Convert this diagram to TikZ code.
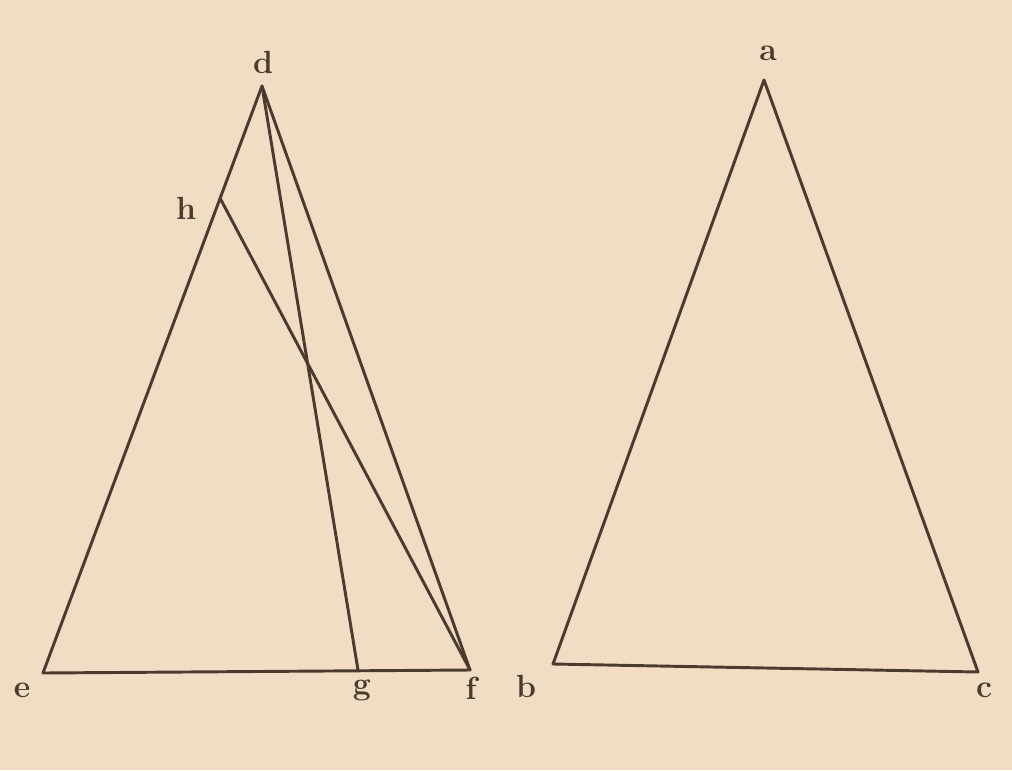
\documentclass[tikz,border=0pt]{standalone}
\definecolor{paper}{HTML}{F0DDC4}
\definecolor{ink}{HTML}{4A3B2E}
\begin{document}
\begin{tikzpicture}[x=0.75pt,y=-0.75pt,
  edge/.style={draw=ink,line width=2.2pt,line cap=round,line join=round},
  lbl/.style={text=ink,font=\fontsize{24}{26}\selectfont\bfseries,inner sep=0pt}]
\fill[paper] (0,0) rectangle (1012,770);
\useasboundingbox (0,0) rectangle (1012,770);
% left figure points
\coordinate (d) at (262,86);
\coordinate (h) at (220,198);
\coordinate (e) at (43,673);
\coordinate (g) at (358,670);
\coordinate (f) at (470,670);
% right figure points
\coordinate (a) at (764,80);
\coordinate (b) at (553,664);
\coordinate (c) at (978,672);
% left figure
\draw[edge] (d) -- (e) -- (f) -- cycle;
\draw[edge] (d) -- (g);
\draw[edge] (h) -- (f);
% right figure
\draw[edge] (a) -- (b) -- (c) -- cycle;
% labels
\node[lbl] (ld) at (263,62) {d};
\node[lbl] (lh) at (186,208) {h};
\node[lbl] (le) at (22,690) {e};
\node[lbl] (lg) at (362,690) {g};
\node[lbl] (lf) at (471,688) {f};
\node[lbl] (lb) at (526,686) {b};
\node[lbl] (lc) at (984,690) {c};
\node[lbl] (la) at (768,53) {a};
\end{tikzpicture}
\end{document}
